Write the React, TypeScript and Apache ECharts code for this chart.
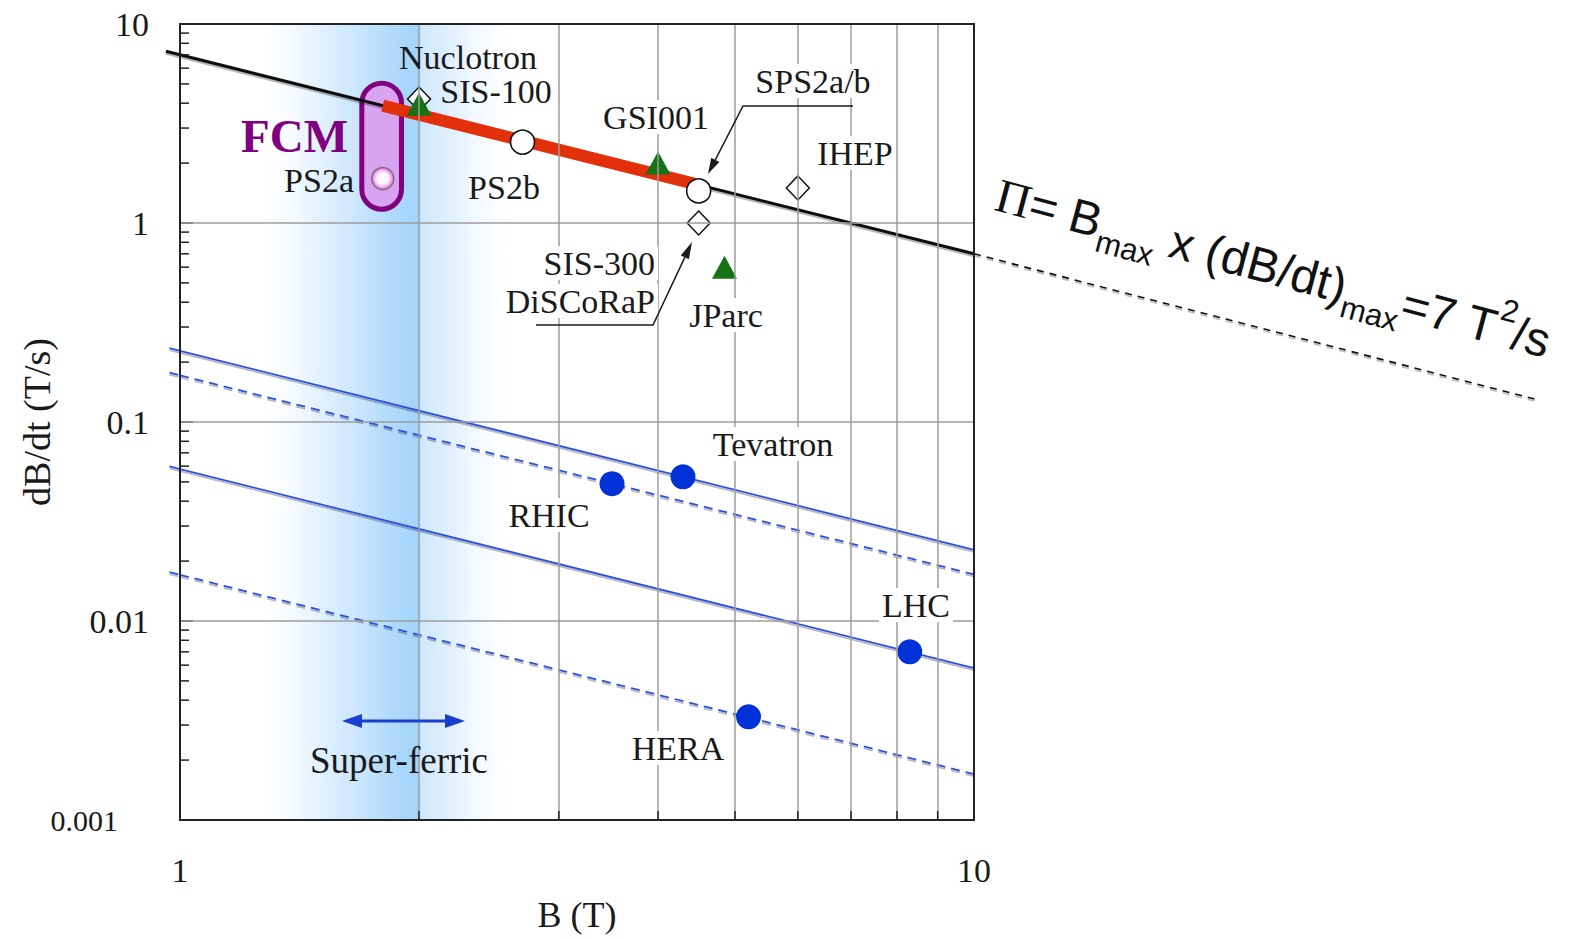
import React, { useEffect, useRef } from 'react';
import * as echarts from 'echarts';

// ---- tick labels / grid values ----
const xTickLabels = ['1', '10'];
const yTickLabels = ['0.001', '0.01', '0.1', '1', '10'];
const xGridValues = [2, 3, 4, 5, 6, 7, 8, 9];
const yGridValues = [0.01, 0.1, 1];
const minorMantissas = [2, 3, 4, 5, 6, 7, 8, 9];
const yDecades = [0.001, 0.01, 0.1, 1];

// ---- lines (B [T], dB/dt [T/s]) ----
const piLine = [[1, 7.0], [10, 0.7]]; // Π = Bmax x (dB/dt)max = 7 T²/s
const piLineStub = [[0.96, 7.29, 1, 7.0]];
const piLineExtension = [[10, 0.7, 51, 0.13]];
const fcmRange = [[1.8, 3.89], [4.45, 1.573]];
const blueSolidUpper = [[1, 0.228], [10, 0.0228]];
const blueDashedUpper = [[1, 0.1715], [10, 0.01715]];
const blueSolidLower = [[1, 0.058], [10, 0.0058]];
const blueDashedLower = [[1, 0.01706], [10, 0.0017]];
const blueSolidStubs = [[0.97, 0.235, 1, 0.228], [0.97, 0.0598, 1, 0.058]];
const blueDashedStubs = [[0.97, 0.177, 1, 0.1715], [0.97, 0.0176, 1, 0.01706]];

// ---- machines ----
const openCircles = [
  { name: 'PS2b', value: [2.7, 2.55] },
  { name: 'SPS2a/b', value: [4.5, 1.45] },
];
const diamonds = [
  { name: 'Nuclotron', value: [2.0, 4.2] },
  { name: 'SIS-300 / DiSCoRaP', value: [4.5, 1.0] },
  { name: 'IHEP', value: [6.0, 1.5] },
];
const triangles = [
  { name: 'SIS-100', value: [2.0, 3.95] },
  { name: 'GSI001', value: [4.0, 2.0] },
  { name: 'JParc', value: [4.85, 0.6] },
];
const blueDots = [
  { name: 'RHIC', value: [3.5, 0.049] },
  { name: 'Tevatron', value: [4.3, 0.053] },
  { name: 'LHC', value: [8.3, 0.007] },
  { name: 'HERA', value: [5.2, 0.0033] },
];
const ps2a = [{ name: 'PS2a', value: [1.8, 1.673] }];
const superFerricBand = [1.25, 2.65];

const SERIF = '"Liberation Serif", "Times New Roman", serif';
const SANS = '"Liberation Sans", Arial, sans-serif';
const TXT = '#1a1a1a';
const BLUE = '#2c4fe2';

function label(text: string, x: number, y: number, align: string, bg: boolean, size = 34) {
  return {
    type: 'text',
    z: 20,
    silent: true,
    style: {
      text,
      x,
      y,
      fill: TXT,
      font: `${size}px ${SERIF}`,
      align,
      textAlign: align,
      verticalAlign: 'middle',
      textVerticalAlign: 'middle',
      backgroundColor: bg ? '#ffffff' : 'transparent',
      padding: bg ? [0, 3, 0, 3] : [0, 0, 0, 0],
    },
  };
}

const shadow = { shadowColor: 'rgba(0,0,0,0.28)', shadowBlur: 1.5, shadowOffsetY: 2 };

function lineSeries(name: string, data: number[][], color: string, width: number, type: any) {
  return {
    name,
    type: 'line',
    data,
    symbol: 'none',
    showSymbol: false,
    silent: true,
    z: 2,
    lineStyle: { color, width, type, cap: 'butt', ...shadow },
  };
}

function segmentSeries(name: string, data: number[][], color: string, width: number, dash: number[] | null) {
  return {
    name,
    type: 'custom',
    coordinateSystem: 'cartesian2d',
    silent: true,
    clip: false,
    z: 2,
    data,
    renderItem: (_p: any, api: any) => {
      const a = api.coord([api.value(0), api.value(1)]);
      const b = api.coord([api.value(2), api.value(3)]);
      return {
        type: 'line',
        shape: { x1: a[0], y1: a[1], x2: b[0], y2: b[1] },
        style: { stroke: color, lineWidth: width, lineDash: dash, ...shadow },
      };
    },
  };
}

export default function App() {
  const ref = useRef<HTMLDivElement>(null);

  useEffect(() => {
    if (!ref.current) return;
    const chart = echarts.init(ref.current, null, { renderer: 'svg' });

    const yMinor: number[][] = [];
    yDecades.forEach((d) => minorMantissas.forEach((m) => yMinor.push([1, +(m * d).toPrecision(3)])));

    const option: any = {
      animation: false,
      grid: {
        left: 180,
        right: 602,
        top: 24,
        bottom: 119,
        show: true,
        containLabel: false,
        outerBoundsMode: 'none',
        borderColor: '#222',
        borderWidth: 2,
        backgroundColor: 'transparent',
        z: 10,
      },
      xAxis: {
        type: 'log',
        logBase: 10,
        min: 1,
        max: 10,
        axisLine: { show: false },
        axisTick: { show: false },
        splitLine: { show: false },
        axisLabel: {
          formatter: (v: number) => xTickLabels[Math.round(Math.log10(v))],
          fontFamily: SERIF,
          fontSize: 34,
          color: TXT,
          margin: 33,
        },
        name: 'B (T)',
        nameLocation: 'middle',
        nameGap: 77,
        nameMoveOverlap: false,
        nameTextStyle: { fontFamily: SERIF, fontSize: 36, color: TXT },
      },
      yAxis: {
        type: 'log',
        logBase: 10,
        min: 0.001,
        max: 10,
        axisLine: { show: false },
        axisTick: { show: true, inside: true, length: 13, lineStyle: { color: '#222', width: 1.5 } },
        splitLine: { show: false },
        axisLabel: {
          formatter: (v: number) => {
            const i = Math.round(Math.log10(v)) + 3;
            return i === 0 ? `{s|${yTickLabels[i]}}` : `{n|${yTickLabels[i]}}`;
          },
          margin: 31,
          rich: {
            n: { fontFamily: SERIF, fontSize: 34, color: TXT },
            s: { fontFamily: SERIF, fontSize: 30, color: TXT, padding: [0, 31, 0, 0] },
          },
        },
        name: 'dB/dt (T/s)',
        nameLocation: 'middle',
        nameGap: 124,
        nameRotate: 90,
        nameMoveOverlap: false,
        nameTextStyle: { fontFamily: SERIF, fontSize: 38, color: TXT },
      },
      series: [
        {
          name: 'Super-ferric band',
          type: 'line',
          data: [],
          z: 0,
          silent: true,
          markArea: {
            silent: true,
            itemStyle: {
              color: {
                type: 'linear',
                x: 0,
                y: 0,
                x2: 1,
                y2: 0,
                colorStops: [
                  { offset: 0, color: 'rgba(255,255,255,0)' },
                  { offset: 0.16, color: '#f0f8ff' },
                  { offset: 0.4, color: '#c8e5fd' },
                  { offset: 0.55, color: '#abd8fb' },
                  { offset: 0.62, color: '#a4d4fb' },
                  { offset: 0.635, color: '#cfe8fe' },
                  { offset: 0.78, color: '#e6f3ff' },
                  { offset: 1, color: 'rgba(255,255,255,0)' },
                ],
              },
            },
            data: [[{ xAxis: superFerricBand[0] }, { xAxis: superFerricBand[1] }]],
          },
        },
        {
          name: 'grid lines',
          type: 'line',
          data: [],
          z: 1,
          silent: true,
          markLine: {
            silent: true,
            symbol: ['none', 'none'],
            label: { show: false },
            lineStyle: { color: '#9c9c9c', width: 1.5, type: 'solid' },
            data: [
              ...xGridValues.map((v) => ({ xAxis: v })),
              ...yGridValues.map((v) => ({ yAxis: v })),
            ],
          },
        },
        {
          name: 'y minor ticks',
          type: 'custom',
          coordinateSystem: 'cartesian2d',
          silent: true,
          z: 6,
          data: yMinor,
          renderItem: (_p: any, api: any) => {
            const p = api.coord([api.value(0), api.value(1)]);
            return {
              type: 'line',
              shape: { x1: p[0], y1: p[1], x2: p[0] + 9, y2: p[1] },
              style: { stroke: '#222', lineWidth: 1.5 },
            };
          },
        },
        {
          name: 'x minor ticks',
          type: 'custom',
          coordinateSystem: 'cartesian2d',
          silent: true,
          z: 6,
          data: xGridValues.map((v) => [v, 0.001]),
          renderItem: (_p: any, api: any) => {
            const p = api.coord([api.value(0), api.value(1)]);
            return {
              type: 'line',
              shape: { x1: p[0], y1: p[1], x2: p[0], y2: p[1] - 9 },
              style: { stroke: '#222', lineWidth: 1.5 },
            };
          },
        },
        lineSeries('Π = 7 T²/s', piLine, '#111', 3, 'solid'),
        segmentSeries('Π stub', piLineStub, '#111', 3, null),
        segmentSeries('Π extension', piLineExtension, '#111', 1.6, [7, 6]),
        lineSeries('Upper solid', blueSolidUpper, BLUE, 1.8, 'solid'),
        lineSeries('Upper dashed', blueDashedUpper, BLUE, 1.8, [9, 6]),
        lineSeries('Lower solid', blueSolidLower, BLUE, 1.8, 'solid'),
        lineSeries('Lower dashed', blueDashedLower, BLUE, 1.8, [9, 6]),
        segmentSeries('Blue solid stubs', blueSolidStubs, BLUE, 1.8, null),
        segmentSeries('Blue dashed stubs', blueDashedStubs, BLUE, 1.8, [9, 6]),
        {
          name: 'FCM range',
          type: 'line',
          data: fcmRange,
          symbol: 'none',
          silent: true,
          z: 2.5,
          lineStyle: { color: '#e2300a', width: 12, cap: 'butt' },
        },
        {
          name: 'open circles',
          type: 'scatter',
          data: openCircles,
          symbol: 'circle',
          symbolSize: 24,
          silent: true,
          z: 3,
          itemStyle: { color: '#ffffff', borderColor: '#111', borderWidth: 1.6, opacity: 1 },
        },
        {
          name: 'diamonds',
          type: 'scatter',
          data: diamonds,
          symbol: 'diamond',
          symbolSize: [23, 24],
          silent: true,
          z: 3,
          itemStyle: { color: '#ffffff', borderColor: '#111', borderWidth: 1.5, opacity: 1 },
        },
        {
          name: 'triangles',
          type: 'scatter',
          data: triangles,
          symbol: 'triangle',
          symbolSize: [25, 23],
          silent: true,
          z: 3.2,
          itemStyle: { color: '#157315', opacity: 1 },
        },
        {
          name: 'blue dots',
          type: 'scatter',
          data: blueDots,
          symbol: 'circle',
          symbolSize: 25,
          silent: true,
          z: 3,
          itemStyle: { color: '#0331d8', opacity: 1 },
        },
        {
          name: 'PS2a',
          type: 'scatter',
          data: ps2a,
          symbol: 'circle',
          symbolSize: 22,
          silent: true,
          z: 4,
          itemStyle: {
            opacity: 1,
            color: {
              type: 'radial',
              x: 0.5,
              y: 0.5,
              r: 0.5,
              colorStops: [
                { offset: 0, color: '#ffffff' },
                { offset: 0.55, color: '#fff2ff' },
                { offset: 1, color: '#f060f0' },
              ],
            },
            borderColor: '#777',
            borderWidth: 1.5,
          },
        },
      ],
      graphic: {
        elements: [
          // FCM capsule
          {
            type: 'rect',
            z: 1.5,
            silent: true,
            shape: { x: 361.8, y: 83.2, width: 39.7, height: 126, r: 20 },
            style: { fill: '#d8a4f0', stroke: '#800080', lineWidth: 5 },
          },
          {
            type: 'text',
            z: 20,
            silent: true,
            style: {
              text: 'FCM',
              x: 241,
              y: 136,
              fill: '#800080',
              font: `bold 47px ${SERIF}`,
              align: 'left',
              textAlign: 'left',
              verticalAlign: 'middle',
              textVerticalAlign: 'middle',
            },
          },
          label('Nuclotron', 468, 57, 'center', false),
          label('SIS-100', 496, 91, 'center', false),
          label('GSI001', 656, 117, 'center', true),
          label('SPS2a/b', 813, 81, 'center', true),
          label('IHEP', 855, 153, 'center', true),
          label('PS2b', 504, 187, 'center', false),
          label('PS2a', 354, 180, 'right', false),
          label('SIS-300', 658, 263, 'right', true),
          label('DiSCoRaP', 658, 301, 'right', true),
          label('JParc', 726, 315, 'center', true),
          label('Tevatron', 773, 444, 'center', true),
          label('RHIC', 549, 515, 'center', true),
          label('LHC', 916, 605, 'center', true),
          label('HERA', 678, 748, 'center', true),
          label('Super-ferric', 399, 760, 'center', false, 37),
          // SPS2a/b leader
          {
            type: 'polyline',
            z: 21,
            silent: true,
            shape: { points: [[853, 106], [743, 106], [715.3, 159.8]] },
            style: { stroke: TXT, lineWidth: 1.5, fill: null },
          },
          {
            type: 'polygon',
            z: 21,
            silent: true,
            shape: { points: [[708, 174], [719.3, 161.9], [711.3, 157.7]] },
            style: { fill: TXT },
          },
          // SIS-300 / DiSCoRaP leader
          {
            type: 'polyline',
            z: 21,
            silent: true,
            shape: { points: [[536, 325], [653, 325], [684.8, 257.4]] },
            style: { stroke: TXT, lineWidth: 1.5, fill: null },
          },
          {
            type: 'polygon',
            z: 21,
            silent: true,
            shape: { points: [[692, 242], [688.9, 259.3], [680.7, 255.5]] },
            style: { fill: TXT },
          },
          // Super-ferric double arrow
          {
            type: 'line',
            z: 21,
            silent: true,
            shape: { x1: 358, y1: 721, x2: 449, y2: 721 },
            style: { stroke: '#1a3fd0', lineWidth: 3 },
          },
          {
            type: 'polygon',
            z: 21,
            silent: true,
            shape: { points: [[342, 721], [362, 714], [362, 728]] },
            style: { fill: '#1a3fd0' },
          },
          {
            type: 'polygon',
            z: 21,
            silent: true,
            shape: { points: [[465, 721], [445, 714], [445, 728]] },
            style: { fill: '#1a3fd0' },
          },
          // Π formula
          {
            type: 'text',
            z: 20,
            silent: true,
            x: 1006,
            y: 160,
            rotation: (-15 * Math.PI) / 180,
            style: {
              text: '{pi|Π}{m|= B}{sub|max}{m| x (dB/dt)}{sub|max}{m|=7 T}{sup|2}{m|/s}',
              x: 0,
              y: 0,
              align: 'left',
              textAlign: 'left',
              verticalAlign: 'top',
              textVerticalAlign: 'top',
              fill: '#111',
              rich: {
                pi: { fontFamily: SERIF, fontSize: 48, lineHeight: 70, fill: '#111' },
                m: { fontFamily: SANS, fontSize: 48, lineHeight: 70, fill: '#111' },
                sub: { fontFamily: SANS, fontSize: 31, lineHeight: 35, verticalAlign: 'bottom', fill: '#111' },
                sup: { fontFamily: SANS, fontSize: 31, lineHeight: 58, verticalAlign: 'top', fill: '#111' },
              },
            },
          },
        ],
      },
    };

    chart.setOption(option);
    return () => chart.dispose();
  }, []);

  return (
    <div
      ref={ref}
      style={{ position: 'absolute', left: 0, top: 0, width: 1576, height: 939, background: '#fff' }}
    />
  );
}
